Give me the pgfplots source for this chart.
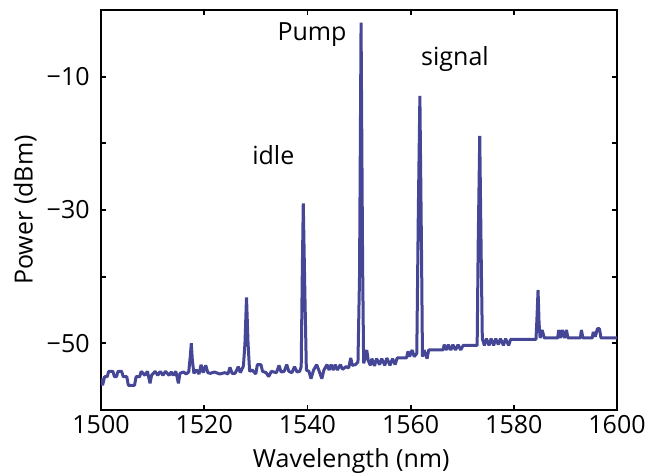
\documentclass[border=0pt]{standalone}
\usepackage{fontspec}
\setmainfont{Open Sans}
\usepackage{pgfplots}
\pgfplotsset{compat=1.18}
\definecolor{trace}{RGB}{70,70,150}
\begin{document}
\fontsize{12.5}{15}\selectfont
\begin{tikzpicture}
\begin{axis}[
  scale only axis,
  width=258pt, height=200pt,
  xmin=1500, xmax=1600, ymin=-60, ymax=0,
  axis line style={line width=1pt},
  tick style={line width=0.9pt, black},
  major tick length=2.6pt,
  tick align=inside,
  xtick={1500,1520,...,1600},
  xticklabels={1500,1520,1540,1560,1580,1600},
  ytick={-60,-50,...,0},
  yticklabels={,−50,,−30,,−10,},
  xticklabel style={inner sep=1pt, yshift=-1.5pt},
  yticklabel style={inner sep=1pt, xshift=-4.5pt},
  xlabel={Wavelength (nm)},
  ylabel={Power (dBm)},
  every axis x label/.style={at={(axis description cs:0.485,-0.145)}, anchor=base},
  every axis y label/.style={at={(axis description cs:-0.147,0.5)}, rotate=90, anchor=center},
  clip=true,
]
\addplot[color=trace, line width=1.5pt, line join=bevel] coordinates {
(1500.0,-55.3) (1500.3,-56.3) (1500.7,-55.0) (1501.2,-55.0) (1501.5,-54.2) (1502.3,-54.2)
(1502.6,-55.0) (1503.0,-55.0) (1503.3,-54.2) (1504.0,-54.2) (1504.3,-55.0) (1505.0,-55.0)
(1505.3,-56.3) (1506.5,-56.3) (1506.8,-55.0) (1507.5,-55.0) (1507.8,-54.2) (1508.5,-54.8)
(1509.0,-54.2) (1509.5,-56.0) (1509.8,-54.8) (1510.5,-54.2) (1511.0,-54.8) (1511.5,-54.2)
(1512.0,-54.8) (1512.5,-54.2) (1513.2,-54.8) (1513.6,-54.3) (1514.0,-54.8) (1514.5,-54.2)
(1515.0,-56.0) (1515.3,-54.5) (1516.0,-54.3) (1516.5,-54.6) (1517.0,-54.3) (1517.3,-52.0)
(1517.5,-50.0) (1517.7,-52.5) (1518.0,-54.5) (1518.5,-54.0) (1519.0,-54.6) (1519.4,-53.2)
(1519.8,-54.4) (1520.3,-53.3) (1520.7,-54.4) (1521.2,-54.5) (1522.0,-54.3) (1523.0,-54.6)
(1524.0,-54.4) (1524.6,-54.6) (1525.0,-53.6) (1525.4,-54.5) (1526.0,-54.5) (1526.6,-53.5)
(1527.0,-54.4) (1527.6,-53.4) (1527.9,-50.0) (1528.2,-43.1) (1528.5,-50.0) (1528.8,-54.2)
(1529.3,-54.0) (1530.0,-54.6) (1530.3,-53.2) (1531.0,-53.2) (1531.3,-54.2) (1532.0,-54.4)
(1532.5,-55.0) (1533.0,-54.2) (1534.0,-54.4) (1534.5,-53.3) (1534.9,-54.3) (1535.5,-54.2)
(1536.0,-53.2) (1536.4,-54.2) (1537.0,-54.4) (1537.5,-53.5) (1538.0,-54.3) (1538.5,-54.2)
(1538.8,-53.5) (1539.0,-40.0) (1539.2,-29.0) (1539.5,-42.0) (1539.8,-54.0) (1540.3,-54.2)
(1540.7,-55.3) (1541.2,-54.0) (1541.8,-53.2) (1542.2,-54.0) (1542.8,-55.3) (1543.2,-54.0)
(1543.8,-53.2) (1544.2,-54.0) (1544.6,-53.2) (1545.0,-54.0) (1545.4,-53.2) (1545.8,-54.0)
(1546.4,-53.2) (1546.8,-53.9) (1547.5,-53.5) (1548.0,-53.7) (1548.4,-52.2) (1548.7,-53.3)
(1549.3,-53.2) (1549.8,-52.8) (1550.1,-40.0) (1550.4,-1.9) (1550.7,-38.0) (1550.9,-53.0)
(1551.2,-52.2) (1551.5,-51.0) (1551.8,-52.6) (1552.2,-53.3) (1552.5,-52.3) (1553.0,-53.4)
(1553.4,-52.3) (1554.0,-53.2) (1554.4,-52.3) (1555.0,-53.3) (1555.4,-52.2) (1556.0,-53.3)
(1556.5,-52.3) (1557.0,-53.2) (1557.4,-52.2) (1559.2,-52.2) (1559.5,-51.2) (1559.8,-52.0)
(1560.3,-51.0) (1560.7,-52.0) (1561.2,-51.5) (1561.5,-30.0) (1561.8,-12.9) (1562.1,-35.0)
(1562.3,-52.0) (1562.6,-51.0) (1563.2,-52.3) (1563.5,-51.0) (1566.3,-51.0) (1566.5,-50.2)
(1567.0,-51.0) (1567.3,-50.2) (1567.8,-51.0) (1568.2,-50.2) (1568.7,-51.0) (1569.2,-50.2)
(1569.7,-51.0) (1570.2,-50.3) (1572.9,-50.3) (1573.1,-35.0) (1573.4,-18.9) (1573.7,-38.0)
(1573.9,-49.3) (1574.3,-50.3) (1574.7,-49.3) (1575.2,-50.3) (1575.6,-49.3) (1576.1,-50.3)
(1576.5,-49.3) (1577.0,-50.2) (1577.4,-49.3) (1578.0,-50.3) (1578.4,-49.3) (1579.0,-50.3)
(1579.4,-49.4) (1584.3,-49.4) (1584.5,-46.0) (1584.7,-42.0) (1584.9,-47.0) (1585.1,-49.2)
(1585.5,-48.0) (1585.9,-49.2) (1588.5,-49.2) (1588.7,-48.0) (1589.0,-49.2) (1589.4,-48.0)
(1589.8,-49.2) (1590.2,-48.0) (1590.5,-49.2) (1592.9,-49.2) (1593.1,-48.0) (1593.4,-49.2)
(1595.2,-49.2) (1595.4,-48.3) (1595.8,-49.0) (1596.2,-47.8) (1596.6,-47.8) (1596.9,-49.2)
(1600.0,-49.2)
};
\node[anchor=base] at (axis cs:1540.9,-4.6) {Pump};
\node[anchor=base] at (axis cs:1533.4,-23.1) {idle};
\node[anchor=base] at (axis cs:1568.6,-8.35) {signal};
\end{axis}
\pgfresetboundingbox
\path[use as bounding box] (current axis.south west) ++(-50.5pt,-33pt) rectangle ([shift={(15.5pt,5pt)}]current axis.north east);
\end{tikzpicture}
\end{document}
